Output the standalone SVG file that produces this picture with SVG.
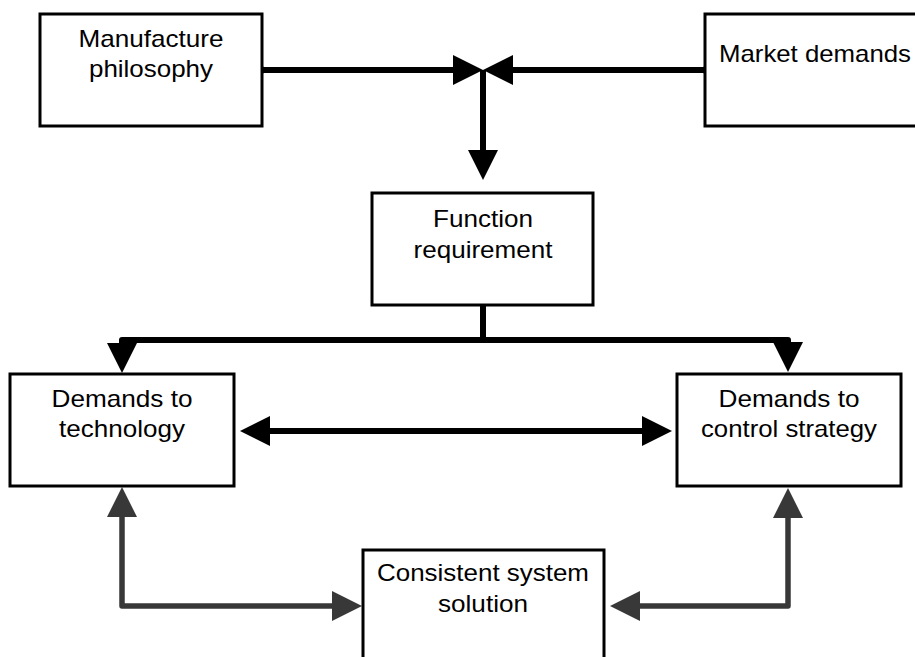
<svg xmlns="http://www.w3.org/2000/svg" width="915" height="657" viewBox="0 0 915 657">
<style>
.box{fill:#fff;stroke:#000;stroke-width:3}
.t{font-family:"Liberation Sans",Arial,sans-serif;font-size:24px;fill:#000;text-anchor:middle}
.blk{fill:none;stroke:#000;stroke-width:6;stroke-linejoin:round}
.gry{fill:none;stroke:#383838;stroke-width:5.5;stroke-linejoin:round}
</style>
<defs>
<marker id="ahb" markerUnits="userSpaceOnUse" markerWidth="30" markerHeight="30" viewBox="0 0 30 30" refX="10" refY="15" orient="auto-start-reverse"><path d="M0,0 L30,15 L0,30 Z" fill="#000"/></marker>
<marker id="ahg" markerUnits="userSpaceOnUse" markerWidth="30" markerHeight="30" viewBox="0 0 30 30" refX="10" refY="15" orient="auto-start-reverse"><path d="M0,0 L30,15 L0,30 Z" fill="#383838"/></marker>
</defs>
<rect width="915" height="657" fill="#fff"/>
<g id="connectors">
<path class="blk" d="M262,70 H463" marker-end="url(#ahb)"/>
<path class="blk" d="M705,70 H503" marker-end="url(#ahb)"/>
<circle cx="262" cy="70" r="3.5" fill="#000"/>
<circle cx="705" cy="70" r="3.5" fill="#000"/>
<path class="blk" d="M483,70 V160" marker-end="url(#ahb)"/>
<path class="blk" d="M483,305 V340 H122 V353" marker-end="url(#ahb)"/>
<path class="blk" d="M483,340 H788 V352" marker-end="url(#ahb)"/>
<path class="blk" d="M260,431 H652" marker-start="url(#ahb)" marker-end="url(#ahb)"/>
<path class="gry" d="M122,507 V606 H342" marker-start="url(#ahg)" marker-end="url(#ahg)"/>
<path class="gry" d="M788,508 V606 H630" marker-start="url(#ahg)" marker-end="url(#ahg)"/>
</g>
<g id="manufacture">
<rect class="box" x="40" y="14" width="222" height="112"/>
<text class="t" x="151" y="47" textLength="145" lengthAdjust="spacingAndGlyphs">Manufacture</text>
<text class="t" x="151" y="77" textLength="124" lengthAdjust="spacingAndGlyphs">philosophy</text>
</g>
<g id="market">
<rect class="box" x="705" y="14" width="230" height="112"/>
<text class="t" x="815" y="62" textLength="192" lengthAdjust="spacingAndGlyphs">Market demands</text>
</g>
<g id="function">
<rect class="box" x="372" y="193" width="221" height="112"/>
<text class="t" x="483" y="227" textLength="100" lengthAdjust="spacingAndGlyphs">Function</text>
<text class="t" x="483" y="258" textLength="139" lengthAdjust="spacingAndGlyphs">requirement</text>
</g>
<g id="technology">
<rect class="box" x="10" y="374" width="224" height="112"/>
<text class="t" x="122" y="407" textLength="141" lengthAdjust="spacingAndGlyphs">Demands to</text>
<text class="t" x="122" y="437" textLength="126" lengthAdjust="spacingAndGlyphs">technology</text>
</g>
<g id="control">
<rect class="box" x="677" y="374" width="224" height="112"/>
<text class="t" x="789" y="407" textLength="141" lengthAdjust="spacingAndGlyphs">Demands to</text>
<text class="t" x="789" y="437" textLength="176" lengthAdjust="spacingAndGlyphs">control strategy</text>
</g>
<g id="consistent">
<rect class="box" x="363" y="550" width="241" height="120"/>
<text class="t" x="483" y="581" textLength="212" lengthAdjust="spacingAndGlyphs">Consistent system</text>
<text class="t" x="483" y="612" textLength="90" lengthAdjust="spacingAndGlyphs">solution</text>
</g>
</svg>
